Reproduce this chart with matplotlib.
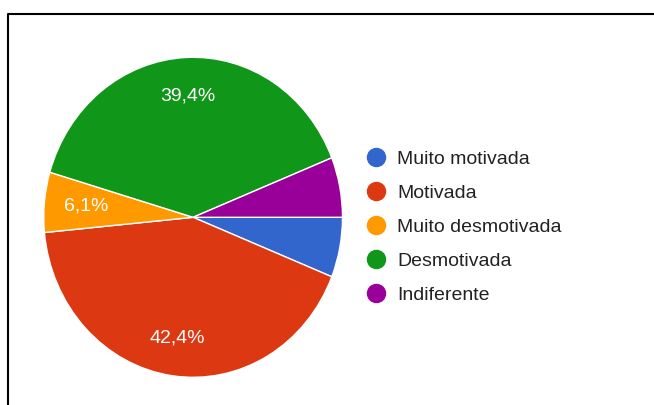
import numpy as np
import matplotlib
matplotlib.use("Agg")
from matplotlib import pyplot as plt
from matplotlib.lines import Line2D

plt.rcParams['font.family'] = ['Liberation Sans', 'DejaVu Sans']

# respostas (33 no total)
categorias = ['Muito motivada', 'Motivada', 'Muito desmotivada', 'Desmotivada', 'Indiferente']
respostas = [2, 14, 2, 13, 2]
cores = ['#3366cc', '#dc3912', '#ff9900', '#109618', '#990099']
mostrar_pct = [False, True, True, True, False]

total = sum(respostas)
pcts = [f"{v / total * 100:.1f}".replace('.', ',') + '%' for v in respostas]

fig = plt.figure(figsize=(6.54, 4.05), dpi=100)
W, H = 654, 405

# moldura (só cantos de cima e esquerda aparecem)
fig.add_artist(Line2D([7.5 / W, 7.5 / W, 1.0], [0.0, 1 - 14 / H, 1 - 14 / H],
                      transform=fig.transFigure, color='black', lw=1.5))

ax = fig.add_axes([43.75 / W, (H - 377.3) / H, 298.75 / W, 320 / H])
wedges, _ = ax.pie(respostas, colors=cores, startangle=0, counterclock=False,
                   wedgeprops=dict(edgecolor='white', linewidth=1))
ax.set_aspect('auto')
ax.set_xlim(-1, 1)
ax.set_ylim(-1, 1)
ax.axis('off')

for w, txt, mostra in zip(wedges, pcts, mostrar_pct):
    if not mostra:
        continue
    ang = np.deg2rad((w.theta1 + w.theta2) / 2)
    r = 0.76 if w.theta2 - w.theta1 > 60 else 0.72
    ax.text(r * np.cos(ang), r * np.sin(ang), txt, color='white',
            fontsize=14, ha='center', va='center')

handles = [Line2D([], [], marker='o', linestyle='none', markersize=13,
                  markerfacecolor=c, markeredgecolor=c) for c in cores]
fig.legend(handles, categorias, loc='center left',
           bbox_to_anchor=(366.3 / W, 1 - 227 / H), frameon=False,
           fontsize=14, labelcolor='#222222', handlelength=1.0,
           handletextpad=0.58, labelspacing=0.85, borderpad=0, borderaxespad=0)

fig.savefig('out.png', dpi=100)
